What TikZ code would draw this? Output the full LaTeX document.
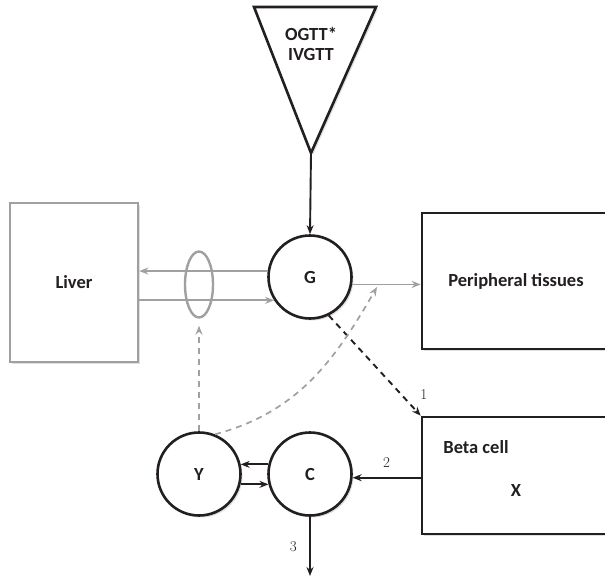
\documentclass[tikz,border=0pt]{standalone}
\usepackage{fontspec}
\newfontfamily\labelfont{Carlito}
\usetikzlibrary{shapes.geometric, arrows.meta, shadows}
\definecolor{ink}{HTML}{231F20}
\definecolor{lgray}{HTML}{A0A0A0}

\begin{document}
\begin{tikzpicture}[x=1pt, y=-1pt, ink,
    font=\labelfont\bfseries\fontsize{18.5}{20}\selectfont,
    shade/.style={drop shadow={opacity=0.25, shadow xshift=2pt, shadow yshift=-2pt}},
    pool/.style={circle, draw=ink, line width=2.6pt, fill=white, minimum size=83pt, inner sep=0pt, shade},
    organ/.style={rectangle, draw=ink, line width=2.6pt, fill=white, shade},
    flow/.style={line width=1.9pt, -{Stealth[length=9pt, width=7pt]}},
    gflow/.style={flow, lgray, line width=1.7pt},
    dashes/.style={dash pattern=on 6pt off 5pt},
    num/.style={font=\rmfamily\mdseries\fontsize{15}{16}\selectfont}]
    \clip (0, 0) rectangle (605, 578);
    % test input
    \draw[line width=2.6pt, fill=white, shade] (254, 7) -- (376, 7) -- (311, 153) -- cycle;
    \coordinate (tip) at (311, 153);
    \node[align=center] (test) at (311, 43.5) {OGTT*\\IVGTT};
    % compartments
    \node[organ, draw=lgray, minimum width=128pt, minimum height=159pt] (liver) at (74, 282.5) {Liver};
    \node[organ, minimum width=188pt, minimum height=136pt] (peri) at (516, 281) {Peripheral tissues};
    \node[organ, minimum width=188pt, minimum height=117pt] (beta) at (516, 475.5) {};
    \node (betal) at (476, 447) {Beta cell};
    \node (x) at (516, 490) {X};
    \node[ellipse, draw=lgray, line width=2.4pt, minimum width=28pt, minimum height=66pt, inner sep=0pt] (valve) at (199, 284.5) {};
    \node[pool] (G) at (310, 277) {G};
    \node[pool] (C) at (310, 474) {C};
    \node[pool] (Y) at (199, 474) {Y};
    % fluxes
    \draw[flow] (tip) -- (G.north);
    \draw[gflow] (G.172) -- (G.172 -| liver.east);
    \draw[gflow] (G.213 -| liver.east) -- (G.213);
    \draw[gflow] (G.-10) -- (G.-10 -| peri.west);
    \draw[flow, dashes] (G.-64) -- node[num, at end, xshift=3pt, yshift=21pt] {1} (beta.north west);
    \draw[flow] (C.-5 -| beta.west) -- node[num, midway, above, yshift=6pt] {2} (C.-5);
    \draw[flow] (C.167) -- (Y.13);
    \draw[flow] (Y.-14) -- (C.194);
    \coordinate (sink) at (310, 576);
    \draw[flow] (C.south) -- node[num, left=9pt] {3} (sink);
    % insulin action
    \draw[gflow, dashes, shorten >=7pt] (Y.north) -- (valve.south);
    \coordinate (hit) at (377, 287);
    \draw[gflow, dashes] (Y.68) to[out=15, in=240] (hit);
\end{tikzpicture}
\end{document}
